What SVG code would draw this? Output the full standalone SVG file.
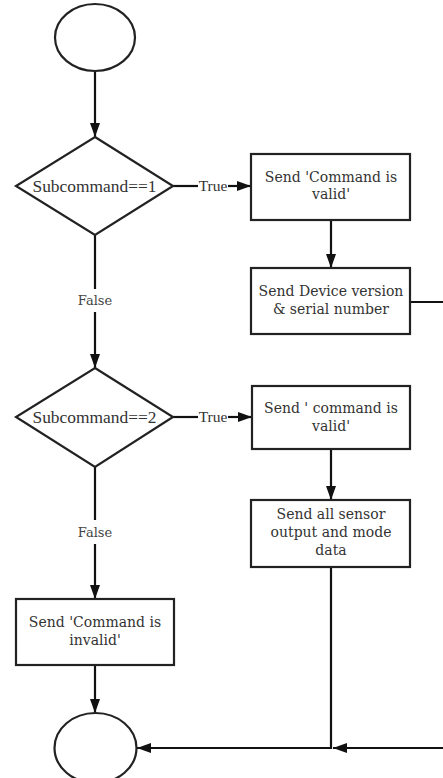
<svg xmlns="http://www.w3.org/2000/svg" width="443" height="778" viewBox="0 0 443 778">
  <style>
    .shape { fill: #fff; stroke: #222; stroke-width: 2.2; }
    .edge { fill: none; stroke: #111; stroke-width: 2.2; }
    .cond { font-family: "Liberation Serif", "Times New Roman", serif; font-size: 16px; fill: #333; text-anchor: middle; }
    .lbl { font-family: "Liberation Serif", "Times New Roman", serif; font-size: 15.5px; fill: #333; text-anchor: middle; }
    .no { font-family: "DejaVu Serif", serif; font-size: 13px; fill: #444; text-anchor: middle; }
    .box { font-family: "DejaVu Serif", serif; font-size: 14px; fill: #333; text-anchor: middle; }
  </style>
  <defs>
    <marker id="arrow" viewBox="0 0 14 10" refX="14" refY="5" markerWidth="14" markerHeight="10" markerUnits="userSpaceOnUse" orient="auto">
      <path d="M0,0 L14,5 L0,10 z" fill="#111"/>
    </marker>
  </defs>

  <rect width="443" height="778" fill="#fff"/>

  <!-- connectors -->
  <g id="connectors">
    <path class="edge" d="M95,71 V137" marker-end="url(#arrow)"/>
    <path class="edge" d="M173,186 H198"/>
    <path class="edge" d="M228,186 H251" marker-end="url(#arrow)"/>
    <text class="lbl" x="213" y="191">True</text>
    <path class="edge" d="M331,220 V268" marker-end="url(#arrow)"/>
    <path class="edge" d="M410,302 H450 V748 H333" marker-end="url(#arrow)"/>
    <path class="edge" d="M95,235 V289"/>
    <text class="no" x="95" y="305">False</text>
    <path class="edge" d="M95,312 V368" marker-end="url(#arrow)"/>
    <path class="edge" d="M173,417 H198"/>
    <path class="edge" d="M228,417 H252" marker-end="url(#arrow)"/>
    <text class="lbl" x="213" y="422">True</text>
    <path class="edge" d="M331,449 V500" marker-end="url(#arrow)"/>
    <path class="edge" d="M331,567 V748 H137" marker-end="url(#arrow)"/>
    <path class="edge" d="M95,467 V520"/>
    <text class="no" x="95" y="537">False</text>
    <path class="edge" d="M95,544 V599" marker-end="url(#arrow)"/>
    <path class="edge" d="M95,665 V713" marker-end="url(#arrow)"/>
  </g>

  <g id="start">
    <ellipse class="shape" cx="95" cy="37.5" rx="40" ry="33.5"/>
  </g>

  <g id="check1">
    <polygon class="shape" points="95,137 173,186 95,235 16,186"/>
    <text class="cond" x="94.5" y="191.5" textLength="124" lengthAdjust="spacingAndGlyphs">Subcommand==1</text>
  </g>

  <g id="valid1">
    <rect class="shape" x="251" y="154" width="159" height="66"/>
    <text class="box" x="331" y="182">Send 'Command is</text>
    <text class="box" x="331" y="199">valid'</text>
  </g>

  <g id="version">
    <rect class="shape" x="251" y="268" width="159" height="66"/>
    <text class="box" x="331" y="296">Send Device version</text>
    <text class="box" x="331" y="314">&amp; serial number</text>
  </g>

  <g id="check2">
    <polygon class="shape" points="95,368 173,417 95,467 16,417"/>
    <text class="cond" x="94.5" y="422.5" textLength="124" lengthAdjust="spacingAndGlyphs">Subcommand==2</text>
  </g>

  <g id="valid2">
    <rect class="shape" x="252" y="386" width="158" height="63"/>
    <text class="box" x="331" y="413">Send ' command is</text>
    <text class="box" x="331" y="431">valid'</text>
  </g>

  <g id="sensors">
    <rect class="shape" x="251" y="500" width="159" height="67"/>
    <text class="box" x="331" y="519">Send all sensor</text>
    <text class="box" x="331" y="537">output and mode</text>
    <text class="box" x="331" y="555">data</text>
  </g>

  <g id="invalid">
    <rect class="shape" x="16" y="599" width="158" height="66"/>
    <text class="box" x="95" y="627">Send 'Command is</text>
    <text class="box" x="95" y="645">invalid'</text>
  </g>

  <g id="end">
    <ellipse class="shape" cx="95.5" cy="748" rx="41" ry="35"/>
  </g>
</svg>
